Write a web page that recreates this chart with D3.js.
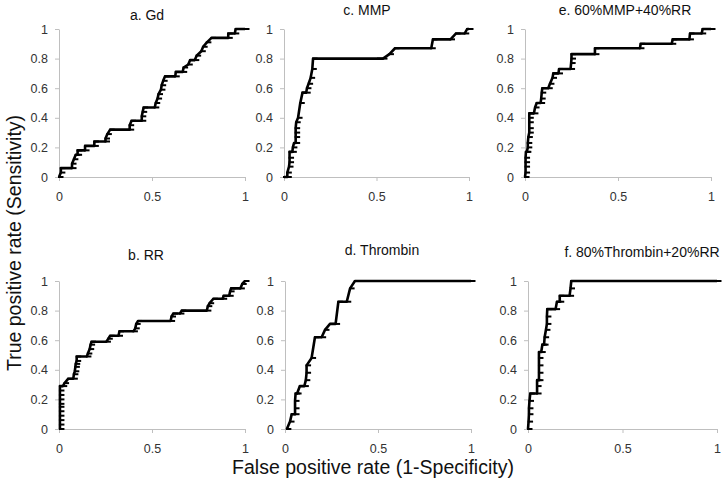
<!DOCTYPE html>
<html>
<head>
<meta charset="utf-8">
<script src="https://cdn.jsdelivr.net/npm/d3@7"></script>
<style>
  body { margin: 0; background: #fff; }
  svg { display: block; font-family: "Liberation Sans", Arial, sans-serif; }
  .axis path, .axis line { stroke: #bfbfbf; }
  .axis text { fill: #333; font-size: 12.5px; }
  .title { font-size: 14px; fill: #111; }
  .bigLabel { font-size: 19.5px; fill: #111; }
</style>
</head>
<body>
<div id="chart"></div>
<script>
// ROC points [false positive rate, true positive rate]
const gd = [[0,0],[0.01,0.03],[0.01,0.06],[0.07,0.06],[0.07,0.09],[0.08,0.12],[0.09,0.15],[0.1,0.15],[0.1,0.18],[0.14,0.18],[0.14,0.21],[0.19,0.21],[0.19,0.24],[0.25,0.24],[0.25,0.26],[0.26,0.29],[0.275,0.32],[0.38,0.32],[0.38,0.35],[0.39,0.38],[0.445,0.38],[0.445,0.41],[0.45,0.44],[0.455,0.47],[0.515,0.47],[0.52,0.5],[0.53,0.53],[0.535,0.56],[0.548,0.59],[0.552,0.62],[0.56,0.65],[0.57,0.68],[0.625,0.68],[0.628,0.71],[0.665,0.71],[0.67,0.74],[0.695,0.76],[0.705,0.79],[0.73,0.79],[0.74,0.82],[0.765,0.85],[0.775,0.88],[0.795,0.91],[0.82,0.94],[0.91,0.94],[0.91,0.97],[0.945,0.97],[0.95,1],[1,1]];

const rr = [[0.005,0],[0.005,0.03],[0.005,0.06],[0.005,0.09],[0.005,0.12],[0.005,0.15],[0.005,0.17],[0.005,0.2],[0.005,0.23],[0.005,0.26],[0.005,0.29],[0.02,0.29],[0.03,0.31],[0.05,0.34],[0.077,0.34],[0.08,0.37],[0.085,0.39],[0.088,0.42],[0.09,0.44],[0.095,0.46],[0.095,0.49],[0.15,0.49],[0.155,0.51],[0.165,0.54],[0.17,0.57],[0.175,0.59],[0.255,0.59],[0.265,0.61],[0.275,0.63],[0.32,0.63],[0.325,0.66],[0.4,0.66],[0.41,0.68],[0.415,0.71],[0.425,0.73],[0.6,0.73],[0.605,0.76],[0.615,0.78],[0.65,0.78],[0.66,0.8],[0.795,0.8],[0.8,0.83],[0.81,0.85],[0.83,0.88],[0.88,0.88],[0.885,0.9],[0.915,0.9],[0.92,0.93],[0.925,0.95],[0.975,0.95],[0.985,0.98],[1,1]];

const mmp = [[0,0],[0.018,0],[0.018,0.03],[0.027,0.07],[0.03,0.1],[0.03,0.13],[0.03,0.17],[0.045,0.17],[0.048,0.2],[0.054,0.23],[0.063,0.23],[0.063,0.27],[0.063,0.3],[0.063,0.33],[0.066,0.37],[0.076,0.4],[0.088,0.5],[0.1,0.57],[0.12,0.57],[0.124,0.6],[0.133,0.63],[0.144,0.67],[0.153,0.73],[0.157,0.8],[0.508,0.8],[0.535,0.8],[0.57,0.83],[0.6,0.87],[0.796,0.87],[0.805,0.93],[0.9,0.93],[0.93,0.97],[0.977,0.97],[0.99,1],[1,1]];

const thrombin = [[0.01,0],[0.027,0.05],[0.036,0.1],[0.054,0.1],[0.054,0.14],[0.054,0.19],[0.057,0.24],[0.065,0.24],[0.08,0.29],[0.104,0.29],[0.112,0.33],[0.116,0.38],[0.116,0.43],[0.143,0.48],[0.161,0.62],[0.197,0.62],[0.215,0.67],[0.242,0.71],[0.272,0.71],[0.287,0.86],[0.332,0.86],[0.35,0.95],[0.376,1],[0.45,1],[0.5,1],[0.55,1],[0.6,1],[0.65,1],[0.7,1],[0.75,1],[0.8,1],[0.85,1],[0.9,1],[0.95,1],[1,1]];

const mmpRR = [[0,0],[0.003,0.03],[0.003,0.07],[0.003,0.1],[0.003,0.13],[0.005,0.17],[0.01,0.17],[0.015,0.2],[0.015,0.23],[0.018,0.27],[0.023,0.3],[0.023,0.33],[0.023,0.37],[0.023,0.4],[0.023,0.43],[0.048,0.43],[0.054,0.47],[0.063,0.5],[0.084,0.5],[0.087,0.53],[0.09,0.57],[0.093,0.6],[0.125,0.6],[0.134,0.63],[0.148,0.67],[0.152,0.7],[0.18,0.7],[0.183,0.73],[0.245,0.73],[0.248,0.77],[0.25,0.8],[0.25,0.83],[0.376,0.83],[0.376,0.87],[0.618,0.87],[0.622,0.9],[0.789,0.9],[0.794,0.93],[0.884,0.93],[0.887,0.97],[0.95,0.97],[0.955,1],[1,1]];

const thrombinRR = [[0,0],[0.003,0.05],[0.005,0.1],[0.005,0.14],[0.008,0.19],[0.012,0.24],[0.048,0.24],[0.048,0.29],[0.048,0.33],[0.058,0.33],[0.058,0.38],[0.058,0.43],[0.058,0.48],[0.058,0.52],[0.07,0.52],[0.076,0.57],[0.085,0.57],[0.088,0.62],[0.095,0.67],[0.1,0.71],[0.1,0.76],[0.102,0.81],[0.146,0.81],[0.153,0.86],[0.168,0.86],[0.168,0.9],[0.22,0.9],[0.225,0.95],[0.229,1],[1,1]];

const titles = ["a. Gd", "b. RR", "c. MMP", "d. Thrombin", "e. 60%MMP+40%RR", "f. 80%Thrombin+20%RR"];
const yTicks = [0, 0.2, 0.4, 0.6, 0.8, 1];
const xTicks = [0, 0.5, 1];

const width = 728;
const height = 492;

// panel boxes in pixels (plot area) + title placement
const panels = [
    { data: gd,         x0: 59,  x1: 245, y0: 177, y1: 29,  tx: 147, ty: 20 },
    { data: rr,         x0: 59,  x1: 245, y0: 429, y1: 281, tx: 146, ty: 260 },
    { data: mmp,        x0: 284, x1: 469, y0: 177, y1: 29,  tx: 367, ty: 15 },
    { data: thrombin,   x0: 285, x1: 471, y0: 429, y1: 281, tx: 382, ty: 255 },
    { data: mmpRR,      x0: 525, x1: 711, y0: 177, y1: 29,  tx: 625, ty: 15 },
    { data: thrombinRR, x0: 528, x1: 717, y0: 429, y1: 281, tx: 642, ty: 257 },
];

const svg = d3.select("#chart")
    .append("svg")
    .attr("width", width)
    .attr("height", height);

panels.forEach((p, i) => {
    const x = d3.scaleLinear().domain([0, 1]).range([p.x0, p.x1]);
    const y = d3.scaleLinear().domain([0, 1]).range([p.y0, p.y1]);
    const g = svg.append("g");

    // axes
    g.append("g")
        .attr("class", "axis")
        .attr("transform", `translate(0, ${p.y0})`)
        .call(d3.axisBottom(x).tickValues(xTicks).tickFormat(d3.format("~g"))
            .tickSize(4).tickSizeOuter(0).tickPadding(11));

    g.append("g")
        .attr("class", "axis")
        .attr("transform", `translate(${p.x0}, 0)`)
        .call(d3.axisLeft(y).tickValues(yTicks).tickFormat(d3.format("~g"))
            .tickSize(4).tickSizeOuter(0).tickPadding(7));

    g.selectAll(".axis .domain").attr("stroke", "#bfbfbf");

    // curve
    const line = d3.line().x(d => x(d[0])).y(d => y(d[1]));
    g.append("path")
        .datum(p.data)
        .attr("d", line)
        .attr("fill", "none")
        .attr("stroke", "#000")
        .attr("stroke-width", 2.6)
        .attr("stroke-linejoin", "round");

    // dash markers
    g.append("g")
        .selectAll("line")
        .data(p.data)
        .join("line")
        .attr("x1", d => x(d[0]) - 1)
        .attr("x2", d => x(d[0]) + 4.5)
        .attr("y1", d => y(d[1]))
        .attr("y2", d => y(d[1]))
        .attr("stroke", "#000")
        .attr("stroke-width", 2);

    // title
    g.append("text")
        .attr("class", "title")
        .attr("x", p.tx)
        .attr("y", p.ty)
        .attr("text-anchor", "middle")
        .text(titles[i]);
});

// shared axis labels
svg.append("text")
    .attr("class", "bigLabel")
    .attr("text-anchor", "middle")
    .attr("transform", "translate(21, 243) rotate(-90)")
    .text("True positive rate (Sensitivity)");

svg.append("text")
    .attr("class", "bigLabel")
    .attr("text-anchor", "middle")
    .attr("x", 373)
    .attr("y", 474)
    .text("False positive rate (1-Specificity)");
</script>
</body>
</html>
